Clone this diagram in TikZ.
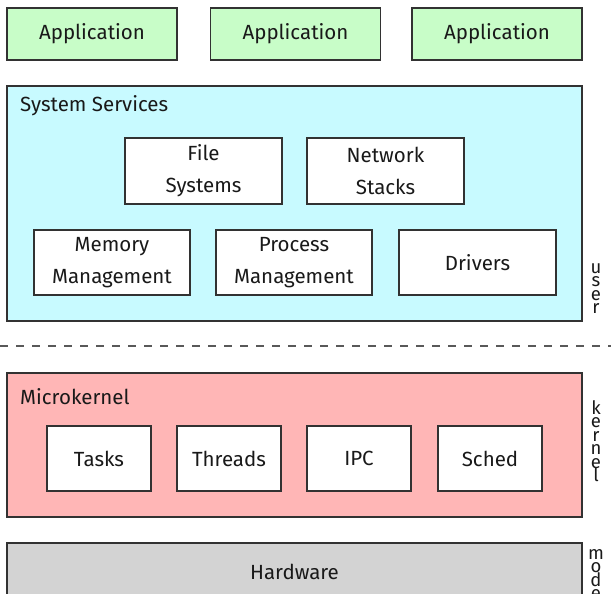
\documentclass[tikz,border=0pt]{standalone}
\usepackage{fontspec}
\setmainfont{Fira Sans}
\usepackage{tikz}
\usepackage{xcolor}
\usetikzlibrary{positioning, calc}

\definecolor{appgreen}{RGB}{200,253,200}
\definecolor{svccyan}{RGB}{200,250,255}
\definecolor{kernpink}{RGB}{255,182,182}
\definecolor{hwgray}{RGB}{211,211,211}
\definecolor{edge}{RGB}{50,50,50}

\begin{document}
\begin{tikzpicture}[x=1pt, y=-1pt,
  box/.style={draw=edge, line width=1.2pt, rectangle, inner sep=0pt, align=center,
    font=\fontsize{20.5}{32}\selectfont, text=black!90},
  layer/.style={box, minimum width=575pt},
  app/.style={box, fill=appgreen, minimum width=170pt, minimum height=52pt},
  part/.style={box, fill=white, minimum width=157pt, minimum height=66pt},
  small/.style={box, fill=white, minimum width=104pt, minimum height=65pt},
  tag/.style={anchor=base west, inner sep=0pt, font=\fontsize{20.5}{24}\selectfont, text=black!90},
  side/.style={anchor=base, font=\fontsize{18.5}{18}\selectfont, text=black!90, inner sep=0pt}]
\useasboundingbox (0,0) rectangle (611,594);

% user side
\node[app] (app1) at (92,34) {Application};
\node[app] (app2) at (295.5,34) {Application};
\node[app] (app3) at (497,34) {Application};

\node[layer, fill=svccyan, minimum height=235pt] (svc) at (294.5,203.5) {};
\node[tag] (svclbl) at (20,112) {System Services};
\node[part] (fs) at (203.5,171) {File\\Systems};
\node[part] (net) at (385.5,171) {Network\\Stacks};
\node[part, minimum width=156pt, minimum height=65pt] (mem) at (112,262.5) {Memory\\Management};
\node[part, minimum width=156pt, minimum height=65pt] (proc) at (294,262.5) {Process\\Management};
\node[part, minimum width=157pt, minimum height=65pt] (drv) at (477.5,262.5) {Drivers};

% mode border
\coordinate (cutl) at (0,346);
\coordinate (cutr) at (611,346);
\draw[black!65, line width=1.8pt, dash pattern=on 8pt off 8pt] (cutl) -- (cutr);

% kernel side
\node[layer, fill=kernpink, minimum height=144pt] (mk) at (294.5,445) {};
\node[tag] (mklbl) at (20,404) {Microkernel};
\foreach \name/\x in {Tasks/99, Threads/229, IPC/359, Sched/490}
  \node[small] (\name) at (\x,458.5) {\name};

\node[layer, fill=hwgray, minimum height=57pt] (hw) at (294.5,571.5) {Hardware};

% vertical mode labels
\foreach \ch [count=\i] in {u,s,e,r}
  \node[side] (u\i) at (596,259.5+13.5*\i) {\ch};
\foreach \ch [count=\i] in {k,e,r,n,e,l}
  \node[side] (k\i) at (596,400.5+13.5*\i) {\ch};
\foreach \ch [count=\i] in {m,o,d,e}
  \node[side] (m\i) at (596,545.5+13.5*\i) {\ch};
\end{tikzpicture}
\end{document}
